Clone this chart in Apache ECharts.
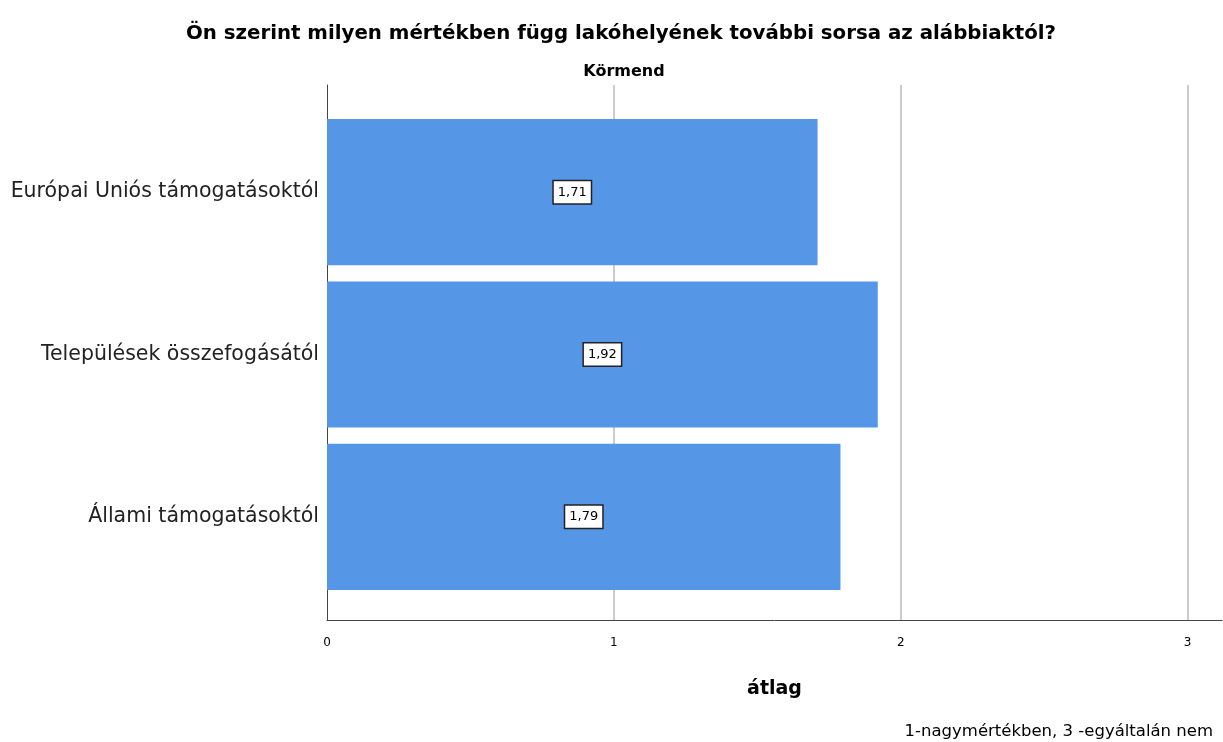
<!DOCTYPE html>
<html>
<head>
<meta charset="utf-8">
<script src="https://cdn.jsdelivr.net/npm/echarts@6/dist/echarts.min.js"></script>
<style>
  html, body { margin: 0; padding: 0; background: #fff; }
  #chart { width: 1223px; height: 742px; }
</style>
</head>
<body>
<div id="chart"></div>
<script>
// kategóriák és átlagok
var categories = ['Európai Uniós támogatásoktól', 'Települések összefogásától', 'Állami támogatásoktól'];
var means = [1.71, 1.92, 1.79];
var axisMax = 3.12;   // a tengely jobb széle kicsit 3 fölött van
var font = '"DejaVu Sans", Arial, sans-serif';

var chart = echarts.init(document.getElementById('chart'));

var option = {
  backgroundColor: '#fff',
  animation: false,
  title: [
    {
      text: 'Ön szerint milyen mértékben függ lakóhelyének további sorsa az alábbiaktól?',
      left: 616,
      top: 19,
      textAlign: 'center',
      textStyle: { fontFamily: font, fontSize: 19.8, fontWeight: 'bold', color: '#000' }
    },
    {
      text: 'Körmend',
      left: 619,
      top: 59,
      textAlign: 'center',
      textStyle: { fontFamily: font, fontSize: 16, fontWeight: 'bold', color: '#000' }
    },
    {
      text: '1-nagymértékben, 3 -egyáltalán nem',
      right: 5,
      top: 718,
      textStyle: { fontFamily: font, fontSize: 16.5, fontWeight: 'normal', color: '#000' }
    }
  ],
  grid: [
    // külső keret: tengelyvonalak, rácsvonalak
    { left: 327, right: 1, top: 85, bottom: 122 },
    // belső: oszlopok és kategóriacímkék
    { left: 327, right: 1, top: 111, bottom: 144 }
  ],
  xAxis: [
    {
      gridIndex: 0,
      type: 'value',
      min: 0,
      max: axisMax,
      interval: 1,
      name: 'átlag',
      nameLocation: 'middle',
      nameGap: 60,
      nameTextStyle: { fontFamily: font, fontSize: 19, fontWeight: 'bold', color: '#000' },
      axisLine: { show: true, lineStyle: { color: '#444', width: 1 } },
      axisTick: { show: false },
      axisLabel: {
        showMaxLabel: false,
        margin: 17,
        fontFamily: font, fontSize: 12, color: '#000'
      },
      splitLine: { show: true, showMinLine: false, showMaxLine: false, lineStyle: { color: '#cccccc', width: 2 } }
    },
    {
      gridIndex: 1,
      type: 'value',
      min: 0,
      max: axisMax,
      show: false
    }
  ],
  yAxis: [
    {
      gridIndex: 0,
      type: 'value',
      axisLine: { show: true, lineStyle: { color: '#444', width: 1 } },
      axisTick: { show: false },
      axisLabel: { show: false },
      splitLine: { show: false }
    },
    {
      gridIndex: 1,
      type: 'category',
      inverse: true,
      data: categories,
      axisLine: { show: false },
      axisTick: { show: false },
      axisLabel: { margin: 8, fontFamily: font, fontSize: 20.5, color: '#222' }
    }
  ],
  series: [
    {
      type: 'bar',
      xAxisIndex: 1,
      yAxisIndex: 1,
      data: means,
      barCategoryGap: '10%',
      itemStyle: { color: '#5596e6' },
      label: {
        show: true,
        position: 'inside',
        formatter: function (p) { return p.value.toFixed(2).replace('.', ','); },
        fontFamily: font,
        fontSize: 13,
        color: '#000',
        backgroundColor: '#fff',
        borderColor: '#222',
        borderWidth: 1.5,
        padding: [5, 4, 4, 4]
      }
    }
  ]
};

chart.setOption(option);
</script>
</body>
</html>
